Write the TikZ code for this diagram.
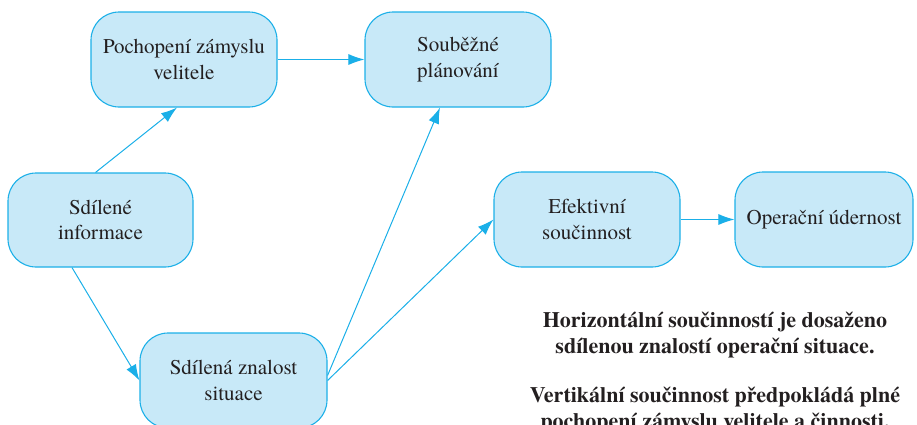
\documentclass[tikz,border=0pt]{standalone}
\usepackage{fontspec}
\setmainfont{texgyretermes}[Extension=.otf, UprightFont=*-regular, BoldFont=*-bold, ItalicFont=*-italic, BoldItalicFont=*-bolditalic]
\usetikzlibrary{arrows.meta,calc}
\definecolor{boxline}{HTML}{1CB0E8}
\definecolor{boxfill}{HTML}{C8E9F8}
\definecolor{txt}{HTML}{231F20}
\definecolor{arr}{HTML}{1AAFE8}
\begin{document}
\begin{tikzpicture}[x=1pt,y=-1pt,
  box/.style={draw=boxline, fill=boxfill, line width=1.1pt, rounded corners=28pt,
    minimum width=186pt, minimum height=95pt, inner sep=0pt, align=center,
    text=txt, font=\fontsize{21}{25.5}\selectfont},
  conn/.style={draw=arr, line width=1pt, -{Latex[length=16pt,width=11pt]}},
  note/.style={align=center, text=txt, inner sep=0pt,
    font=\fontsize{22}{26}\selectfont\bfseries}]
\useasboundingbox (0,0) rectangle (917,424);
\clip (0,0) rectangle (917,424);
\node[box] (pochop) at (184,59.5) {Pochopení zámyslu\\velitele};
\node[box] (soub) at (458,59.5) {Souběžné\\plánování};
\node[box, minimum width=185pt, minimum height=94pt] (sdinf) at (100.5,220) {Sdílené\\informace};
\node[box, minimum width=187pt] (znal) at (233.5,380.5) {Sdílená znalost\\situace};
\node[box] (efekt) at (587,219.5) {Efektivní\\součinnost};
\node[box, minimum width=178pt] (oper) at (824,219.5) {Operační údernost};
\node[note] (note1) at (715,335) {Horizontální součinností je dosaženo\\sdílenou znalostí operační situace.};
\node[note] (note2) at (715,410.5) {Vertikální součinnost předpokládá plné\\pochopení zámyslu velitele a činnosti.};
\draw[conn] ([xshift=-5pt]sdinf.north) -- ([xshift=-7pt]pochop.south);
\draw[conn] (pochop.east) -- (soub.west);
\draw[conn] ([xshift=-28.5pt]sdinf.south) -- (znal.west);
\draw[conn] ([yshift=5pt]znal.east) -- ([xshift=-18pt]soub.south);
\draw[conn] (znal.east) -- (efekt.west);
\draw[conn] (efekt.east) -- (oper.west);
\end{tikzpicture}
\end{document}
